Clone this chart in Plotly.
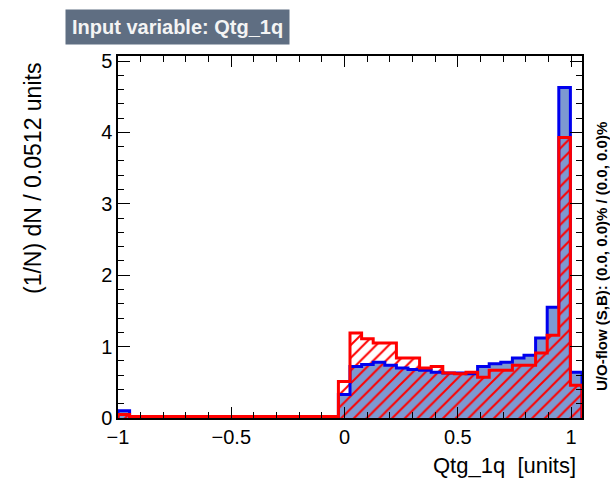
import plotly.graph_objects as go

# ---- data ----
x_min = -1.0
bin_width = 0.0512
n_bins = 40

signal = [0.10, 0.02, 0.02, 0.02, 0.02, 0.02, 0.02, 0.02, 0.02, 0.02,
          0.02, 0.02, 0.02, 0.02, 0.02, 0.02, 0.02, 0.02, 0.02, 0.33,
          0.72, 0.75, 0.78, 0.74, 0.70, 0.68, 0.67, 0.64, 0.63, 0.63,
          0.62, 0.72, 0.76, 0.78, 0.84, 0.88, 1.12, 1.55, 4.63, 0.64]
background = [0.05, 0.02, 0.02, 0.02, 0.02, 0.02, 0.02, 0.02, 0.02, 0.02,
              0.02, 0.02, 0.02, 0.02, 0.02, 0.02, 0.02, 0.02, 0.02, 0.51,
              1.19, 1.11, 1.05, 1.05, 0.84, 0.84, 0.70, 0.72, 0.63, 0.62,
              0.64, 0.57, 0.67, 0.67, 0.74, 0.74, 0.91, 1.16, 3.93, 0.46]

x_tickvals = [-1, -0.5, 0, 0.5, 1]
x_ticktext = ["\u22121", "\u22120.5", "0", "0.5", "1"]
y_tickvals = [0, 1, 2, 3, 4, 5]

title_text = "Input variable: Qtg_1q"
x_title = "Qtg_1q  [units]"
y_title = "(1/N) dN / 0.0512 units"
flow_text = "U/O-flow (S,B): (0.0, 0.0)% / (0.0, 0.0)%"

# ---- derived ----
edges = [x_min + i * bin_width for i in range(n_bins + 1)]
centers = [x_min + (i + 0.5) * bin_width for i in range(n_bins)]

def step(vals):
    xs = [edges[0]] + edges[:-1] + [edges[-1], edges[-1]]
    ys = [0] + list(vals) + [vals[-1], 0]
    return xs, ys

sig_blue = "#0000ee"
sig_fill = "#7d99d1"
bkg_red = "#ff0000"
FONT = "Liberation Sans, Arial, sans-serif"

fig = go.Figure()
fig.add_trace(go.Bar(x=centers, y=signal, width=bin_width,
                     marker=dict(color=sig_fill, line=dict(width=0)),
                     showlegend=False, hoverinfo="skip"))
fig.add_trace(go.Bar(x=centers, y=background, width=bin_width,
                     marker=dict(color="rgba(0,0,0,0)", line=dict(width=0),
                                 pattern=dict(shape="/", fgcolor=bkg_red,
                                              bgcolor="rgba(0,0,0,0)",
                                              fillmode="replace",
                                              size=9, solidity=0.22)),
                     showlegend=False, hoverinfo="skip"))
sx, sy = step(signal)
fig.add_trace(go.Scatter(x=sx, y=sy, mode="lines", line_shape="hv",
                         line=dict(color=sig_blue, width=3),
                         showlegend=False, hoverinfo="skip"))
bx, by = step(background)
fig.add_trace(go.Scatter(x=bx, y=by, mode="lines", line_shape="hv",
                         line=dict(color=bkg_red, width=3),
                         showlegend=False, hoverinfo="skip"))

axis_font = dict(family=FONT, size=20, color="black")

fig.update_layout(
    width=610, height=480,
    margin=dict(l=118, r=28, t=56, b=62),
    paper_bgcolor="white", plot_bgcolor="white",
    barmode="overlay", bargap=0,
    xaxis=dict(range=[edges[0], edges[-1]], tickvals=x_tickvals, ticktext=x_ticktext,
               ticks="inside", ticklen=11, tickwidth=1.2, tickcolor="black",
               showline=True, linecolor="black", linewidth=1.5, mirror="allticks",
               showgrid=False, zeroline=False, tickfont=axis_font,
               minor=dict(dtick=0.1, tick0=0, ticks="inside", ticklen=6,
                          tickcolor="black", tickwidth=1, showgrid=False)),
    yaxis=dict(range=[0, 5.07], tickvals=y_tickvals,
               ticks="inside", ticklen=12, tickwidth=1.2, tickcolor="black",
               showline=True, linecolor="black", linewidth=1.5, mirror="allticks",
               showgrid=False, zeroline=False, tickfont=axis_font,
               minor=dict(dtick=0.2, tick0=0, ticks="inside", ticklen=6,
                          tickcolor="black", tickwidth=1, showgrid=False)),
    annotations=[
        dict(text="<b>" + title_text + "</b>", xref="paper", yref="paper",
             x=(65 - 118) / 464, y=(418 - 27) / 362, xanchor="left", yanchor="middle",
             showarrow=False, bgcolor="#5f6e82", borderpad=6,
             font=dict(family=FONT, size=20, color="#f4f4f4")),
        dict(text=y_title, xref="paper", yref="paper",
             x=(33 - 118) / 464, y=(418 - 179) / 362, xanchor="center", yanchor="middle",
             textangle=-90, showarrow=False,
             font=dict(family=FONT, size=23, color="black")),
        dict(text=x_title, xref="paper", yref="paper",
             x=(578 - 118) / 464, y=(418 - 465) / 362, xanchor="right", yanchor="middle",
             showarrow=False,
             font=dict(family=FONT, size=22, color="black")),
        dict(text="<b>" + flow_text + "</b>", xref="paper", yref="paper",
             x=(601 - 118) / 464, y=(418 - 257) / 362, xanchor="center", yanchor="middle",
             textangle=-90, showarrow=False,
             font=dict(family=FONT, size=15, color="black")),
    ],
)

fig.write_html("out.html")
